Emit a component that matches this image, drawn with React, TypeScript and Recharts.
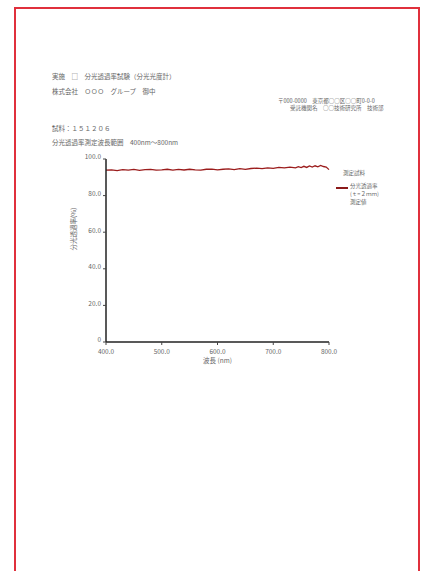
import React from "react";
import { LineChart, Line, XAxis, YAxis } from "recharts";

const wavelengths = [400, 410, 420, 430, 440, 450, 460, 470, 480, 490, 500, 510, 520, 530, 540, 550, 560, 570, 580, 590, 600, 610, 620, 630, 640, 650, 660, 670, 680, 690, 700, 710, 720, 730, 740, 745, 750, 755, 760, 765, 770, 775, 780, 785, 790, 795, 800];
const transmittance = [93.9, 94.1, 93.7, 94.2, 93.9, 94.3, 93.8, 94.2, 94.3, 93.9, 94.1, 94.4, 93.9, 94.3, 94.0, 94.4, 94.1, 93.9, 94.4, 94.5, 94.1, 94.4, 94.6, 94.2, 94.7, 94.3, 94.8, 95.0, 94.7, 95.2, 94.9, 95.4, 95.1, 95.6, 95.2, 95.8, 95.3, 96.0, 95.4, 96.2, 95.6, 96.3, 95.7, 96.5, 95.9, 95.6, 94.2];
const xTicks = [400, 500, 600, 700, 800];
const xTickLabels = ["400.0", "500.0", "600.0", "700.0", "800.0"];
const yTicks = [0, 20, 40, 60, 80, 100];
const yTickLabels = ["0", "20.0", "40.0", "60.0", "80.0", "100.0"];

const data = wavelengths.map((w, i) => ({ w, t: transmittance[i] }));

const font = "'Noto Sans CJK JP', 'Noto Sans', sans-serif";
const txt: React.CSSProperties = { position: "absolute", fontFamily: font, fontSize: 6.5, color: "#666", whiteSpace: "nowrap", lineHeight: "8px" };

export default function App() {
  return (
    <div style={{ position: "absolute", left: 0, top: 0, width: 426, height: 571, background: "#fff", overflow: "hidden" }}>
      <div style={{ position: "absolute", left: 14, top: 7, width: 406, height: 580, border: "2px solid #e0303c", boxSizing: "border-box" }} />
      <div style={{ ...txt, left: 52, top: 72 }}>実施　□　分光透過率試験（分光光度計）</div>
      <div style={{ ...txt, left: 52, top: 87 }}>株式会社　ＯＯＯ　グループ　御中</div>
      <div style={{ ...txt, left: 278, top: 97, fontSize: 5.5 }}>〒000-0000　東京都○○区○○町0-0-0</div>
      <div style={{ ...txt, left: 290, top: 104, fontSize: 5.5 }}>受託機関名　○○技術研究所　技術部</div>
      <div style={{ ...txt, left: 52, top: 124 }}>試料：１５１２０６</div>
      <div style={{ ...txt, left: 52, top: 138 }}>分光透過率測定波長範囲　400nm〜800nm</div>
      <div style={{ ...txt, left: 343, top: 169, fontSize: 5.5 }}>測定試料</div>
      <div style={{ position: "absolute", left: 336, top: 187, width: 12, height: 1.5, background: "#8b1a1a" }} />
      <div style={{ ...txt, left: 350, top: 182, fontSize: 5.5, lineHeight: "8px" }}>
        分光透過率<br />(ｔ=２ｍｍ)<br />測定値
      </div>
      <div style={{ position: "absolute", left: 0, top: 0 }}>
        <LineChart width={426} height={571} data={data} margin={{ top: 159, right: 97, bottom: 209, left: 76 }}>
          <XAxis
            xAxisId="b"
            dataKey="w"
            type="number"
            domain={[400, 800]}
            ticks={xTicks}
            tickFormatter={(v: number) => xTickLabels[xTicks.indexOf(v)]}
            axisLine={{ stroke: "#222", strokeWidth: 1.5 }}
            tickLine={{ stroke: "#444" }}
            tickSize={3}
            height={20}
            tick={{ fontSize: 6.5, fill: "#666", fontFamily: font, dy: 2 }}
            label={{ value: "波長 (nm)", position: "insideBottom", offset: -1, fontSize: 6.5, fill: "#666", fontFamily: font }}
          />
          <XAxis
            xAxisId="t"
            orientation="top"
            dataKey="w"
            type="number"
            domain={[400, 800]}
            ticks={xTicks}
            tick={false}
            axisLine={{ stroke: "#5a2222", strokeWidth: 1.5 }}
            tickLine={{ stroke: "#777" }}
            tickSize={3}
            height={0}
          />
          <YAxis
            yAxisId="l"
            type="number"
            domain={[0, 100]}
            ticks={yTicks}
            tickFormatter={(v: number) => yTickLabels[yTicks.indexOf(v)]}
            axisLine={{ stroke: "#222", strokeWidth: 1.5 }}
            tickLine={{ stroke: "#444" }}
            tickSize={3}
            width={30}
            tick={{ fontSize: 6.5, fill: "#666", fontFamily: font, dy: -2 }}
            label={{ value: "分光透過率(%)", angle: -90, position: "insideLeft", offset: -2, fontSize: 6.5, fill: "#666", fontFamily: font }}
          />
          <YAxis
            yAxisId="r"
            orientation="right"
            type="number"
            domain={[0, 100]}
            ticks={yTicks}
            tick={false}
            axisLine={{ stroke: "#aaa", strokeWidth: 1, strokeDasharray: "3 3" }}
            tickLine={{ stroke: "#777" }}
            tickSize={3}
            width={0}
          />
          <Line xAxisId="b" yAxisId="l" type="linear" dataKey="t" stroke="#9b1c1c" strokeWidth={1.3} dot={false} isAnimationActive={false} />
        </LineChart>
      </div>
    </div>
  );
}
